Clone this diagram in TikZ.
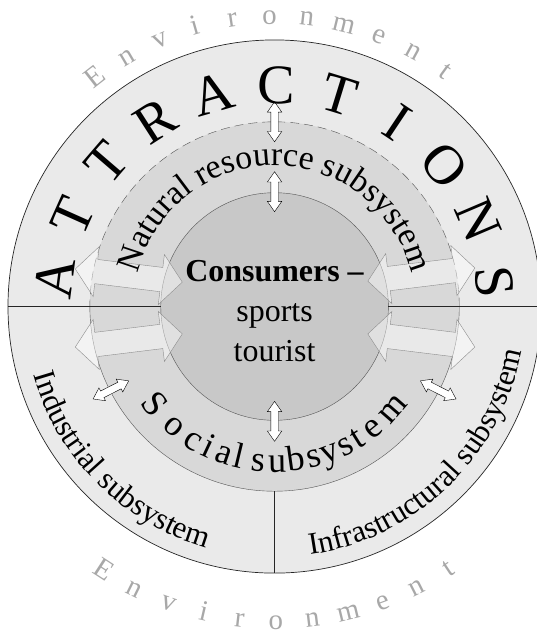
\documentclass[tikz,border=0pt]{standalone}
\usepackage{fontspec}
\setmainfont{Liberation Serif}
\usepackage{tikz}
\usetikzlibrary{arrows.meta}
\usetikzlibrary{decorations.text}
\usetikzlibrary{shapes.arrows}
\definecolor{ringout}{RGB}{234,234,234}
\definecolor{ringmid}{RGB}{216,216,216}
\definecolor{ringin}{RGB}{200,200,200}
\definecolor{envgray}{RGB}{168,168,168}
\definecolor{edgegray}{RGB}{85,85,85}
\definecolor{flowgray}{RGB}{140,140,140}

\begin{document}
\begin{tikzpicture}[x=1pt,y=1pt,
    swap/.style={double arrow,draw=black,fill=white,minimum height=40pt,inner sep=3.5pt,
      double arrow head extend=3.5pt,double arrow tip angle=70},
    flow/.style={double arrow,draw=flowgray,fill=white,fill opacity=0.45,minimum height=108pt,
      inner sep=12pt,double arrow head extend=13pt,double arrow tip angle=100},
    bigletter/.style={font=\fontsize{56}{60}\selectfont,anchor=base,inner sep=0pt},
    envletter/.style={font=\fontsize{29}{30}\selectfont,text=envgray,anchor=base,inner sep=0pt},
    socletter/.style={font=\fontsize{36}{40}\selectfont,anchor=base,inner sep=0pt}]
    \useasboundingbox (-275,-332) rectangle (262,307);
    \fill[ringout] (0,0) circle[radius=267];
    \fill[ringmid] (0,0) circle[radius=185];
    \fill[ringin] (0,0) circle[radius=114];
    \draw[black!85,line width=0.7pt] (0,0) circle[radius=267];
    \draw[edgegray] (180:185) arc[start angle=180,end angle=360,radius=185];
    \draw[edgegray,dash pattern=on 9pt off 5pt] (0:185) arc[start angle=0,end angle=180,radius=185];
    \draw[edgegray] (0,0) circle[radius=114];
    \draw[black!85] (180:267) -- (180:114);
    \draw[black!85] (0:114) -- (0:270);
    \draw[black!85] (270:185) -- (270:267);
    \node[flow,rotate=-7] (flowul) at (-146,31) {};
    \node[flow,rotate=7] (flowur) at (147,32) {};
    \node[flow,rotate=7] (flowll) at (-146,-34) {};
    \node[flow,rotate=-7] (flowlr) at (147,-34) {};
    \node[swap,rotate=90] (swapout) at (90:185) {};
    \node[swap,rotate=90] (swaptop) at (90:115) {};
    \node[swap,rotate=90] (swapbot) at (270:115) {};
    \node[swap,rotate=27] (swapleft) at (207:184) {};
    \node[swap,rotate=-27] (swapright) at (333:184) {};
    \node[align=center,font=\fontsize{32}{40}\selectfont,inner sep=0pt] (consumer) at (0,-5)
      {\textbf{Consumers –}\\sports\\tourist};
    \foreach \ch [count=\i, evaluate=\i as \ang using 172.5-(\i-1)*16.6] in {A,T,T,R,A,C,T,I,O,N,S}
      \node[bigletter,rotate=\ang-90] (attr\i) at (\ang:203) {\ch};
    \foreach \ch [count=\i, evaluate=\i as \ang using 128-(\i-1)*7.4] in {E,n,v,i,r,o,n,m,e,n,t}
      \node[envletter,rotate=\ang-90] (envtop\i) at (\ang:283) {\ch};
    \foreach \ch [count=\i, evaluate=\i as \ang using 237-(1-\i)*6.65] in {E,n,v,i,r,o,n,m,e,n,t}
      \node[envletter,rotate=\ang+90] (envbot\i) at (\ang:323) {\ch};
    \foreach \ch/\ang [count=\i] in {S/219,o/230,c/238.8,i/245,a/251,l/256.5,
        s/264,u/271,b/278,s/284.7,y/290.5,s/297,t/302,e/309,m/319}
      \node[socletter,rotate=\ang+90] (soc\i) at (\ang:166) {\ch};
    \path[decorate,decoration={text along path,text align=center,
      text={|\fontsize{34}{40}\selectfont|Natural resource subsystem}}]
      (180:141) arc[start angle=180,end angle=0,radius=141];
    \path[decorate,decoration={text along path,text align=center,
      text={|\fontsize{31}{36}\selectfont|Industrial subsystem}}]
      (186:251) arc[start angle=186,end angle=264,radius=251];
    \path[decorate,decoration={text along path,text align=center,
      text={|\fontsize{31}{36}\selectfont|Infrastructural subsystem}}]
      (270:251) arc[start angle=270,end angle=358,radius=251];
\end{tikzpicture}
\end{document}
